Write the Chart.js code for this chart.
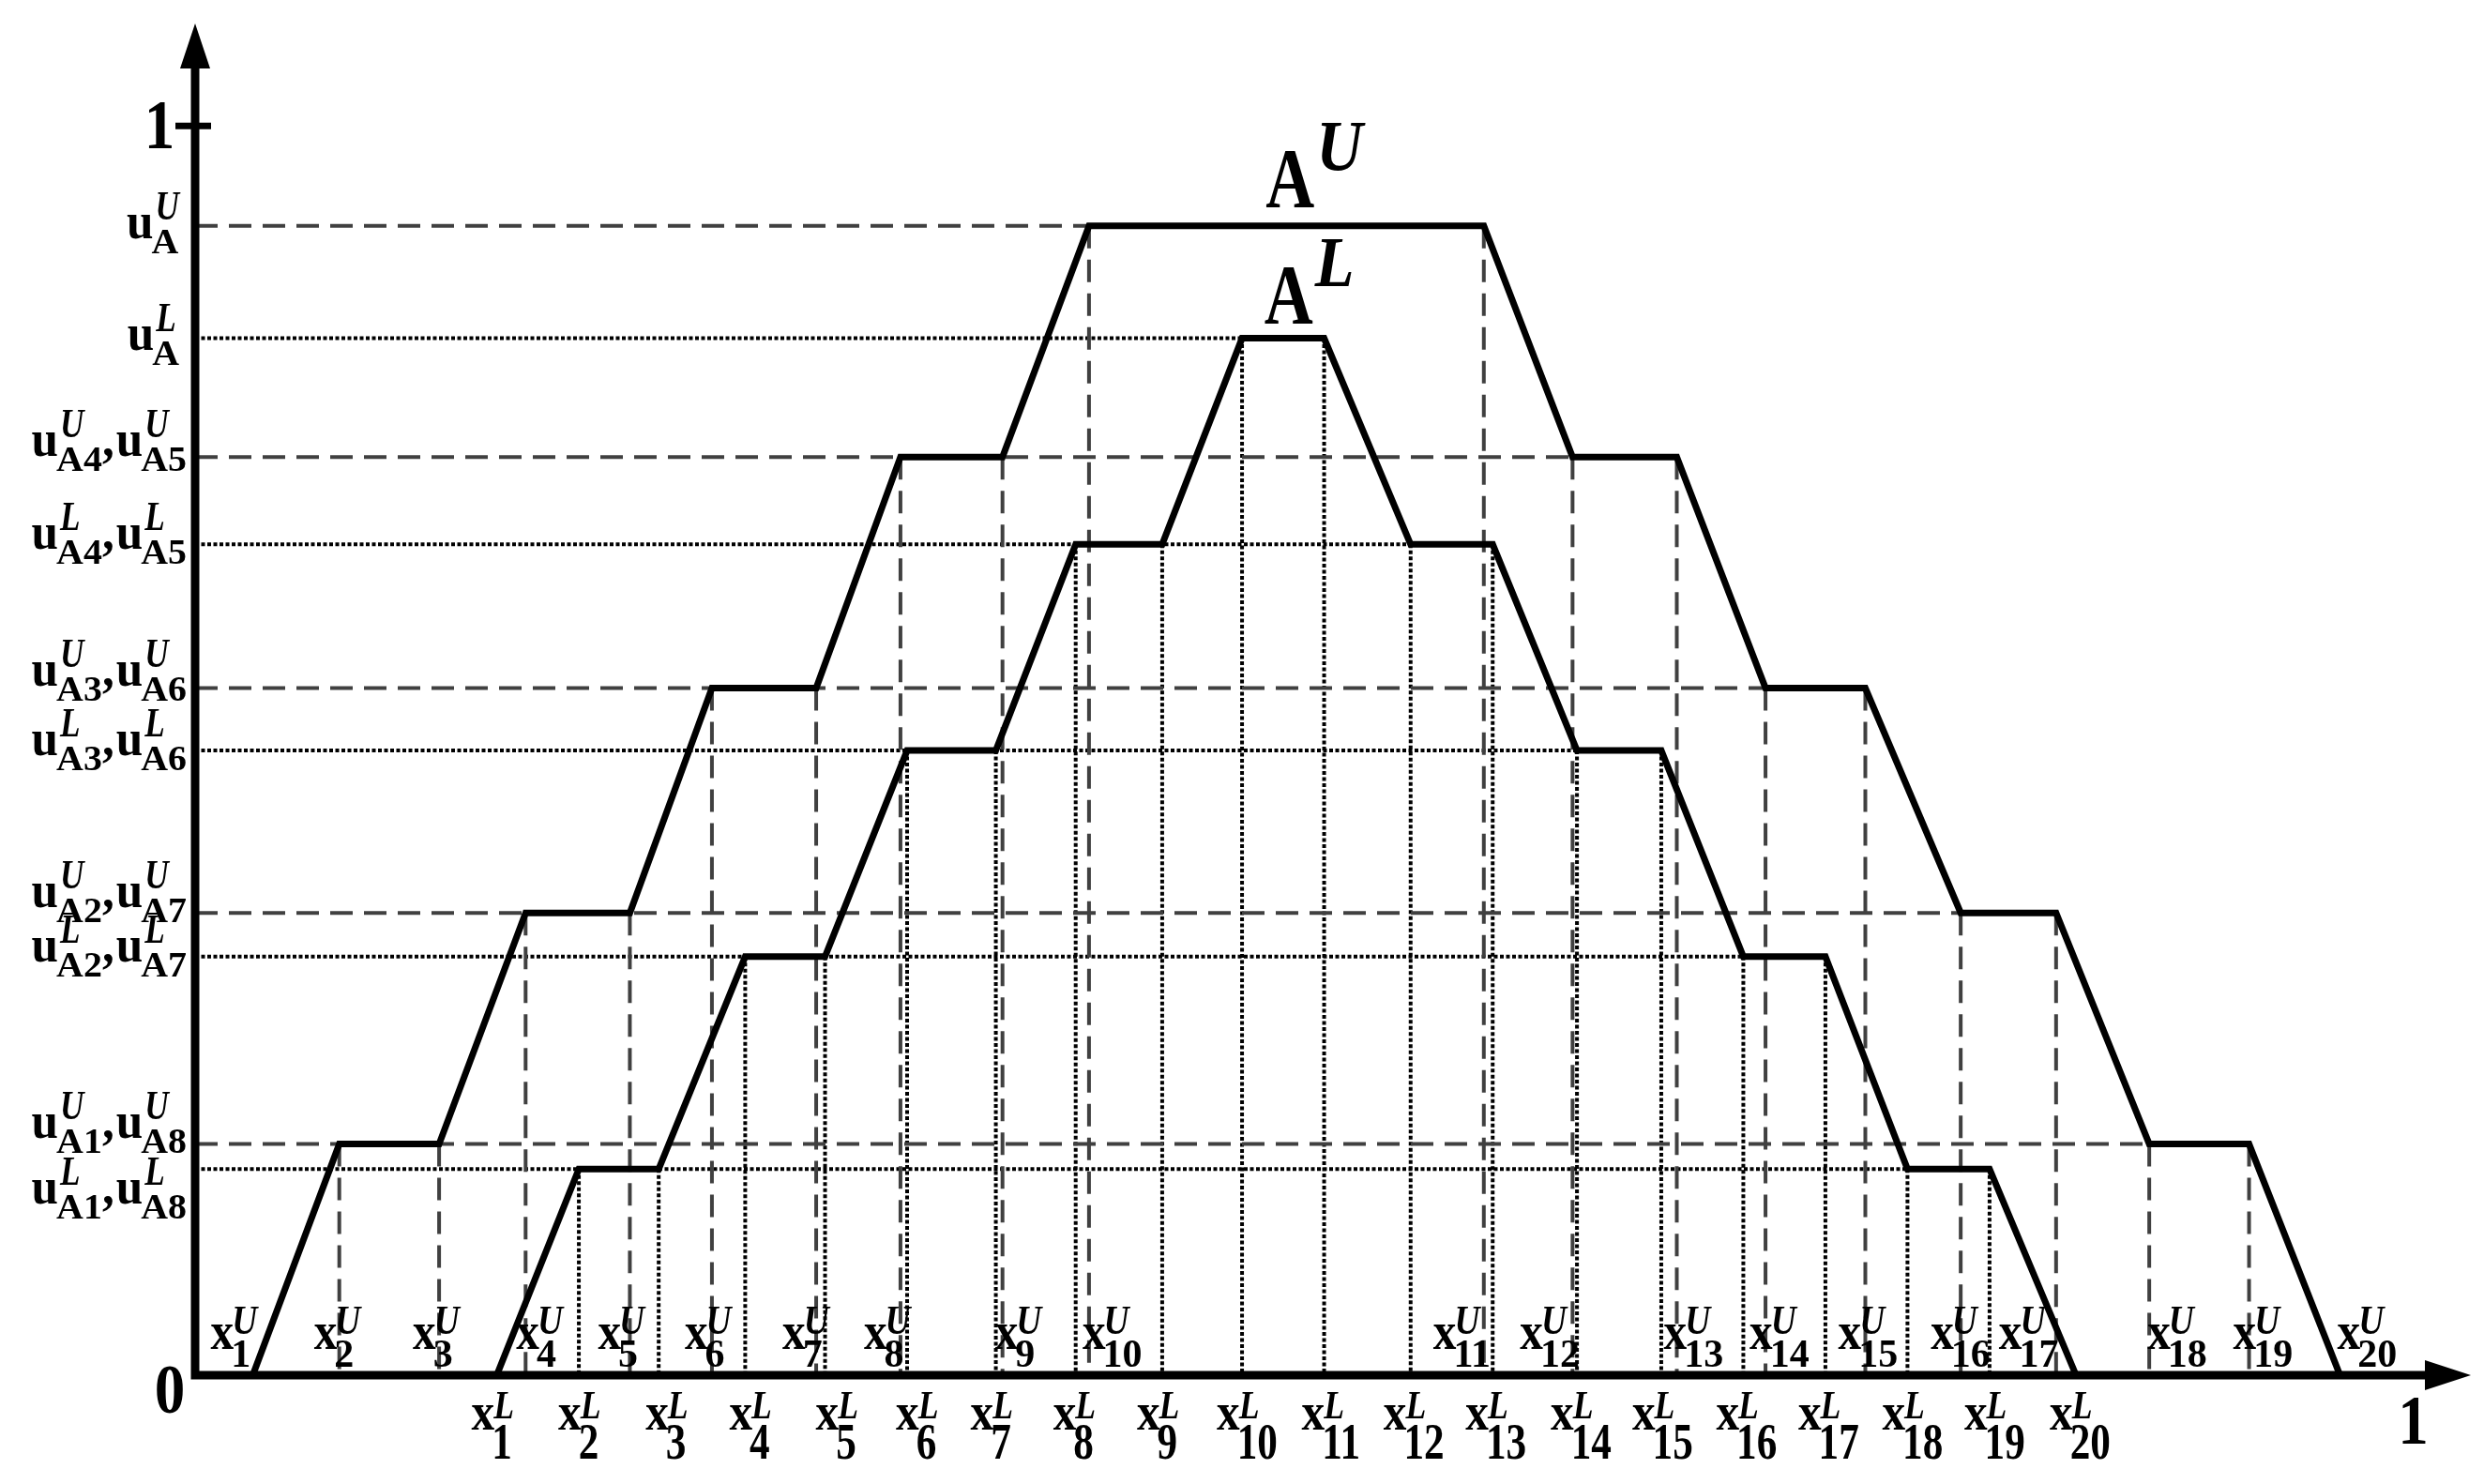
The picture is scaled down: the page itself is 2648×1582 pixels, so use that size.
<!DOCTYPE html>
<html><head><meta charset="utf-8">
<script src="https://cdn.jsdelivr.net/npm/chart.js@4.4.0/dist/chart.umd.min.js"></script>
<style>html,body{margin:0;padding:0;background:#fff;}#wrap{width:2648px;height:1582px;}</style>
</head><body><div id="wrap"><canvas id="c" width="2648" height="1582"></canvas></div>
<script>
// ---- data ----
const upperX  = [0.026,0.065,0.110,0.149,0.196,0.233,0.280,0.318,0.364,0.403,0.581,0.621,0.668,0.708,0.753,0.796,0.839,0.881,0.926,0.967];
const upperMu = [0,0.185,0.185,0.37,0.37,0.55,0.55,0.735,0.735,0.92,0.92,0.735,0.735,0.55,0.55,0.37,0.37,0.185,0.185,0];
const lowerX  = [0.136,0.173,0.209,0.248,0.284,0.321,0.361,0.397,0.436,0.472,0.509,0.548,0.585,0.623,0.661,0.698,0.735,0.772,0.809,0.848];
const lowerMu = [0,0.165,0.165,0.335,0.335,0.50,0.50,0.665,0.665,0.83,0.83,0.665,0.665,0.50,0.50,0.335,0.335,0.165,0.165,0];
const xIndexLabels = ['1','2','3','4','5','6','7','8','9','10','11','12','13','14','15','16','17','18','19','20'];
const upperLevels = [0.92,0.735,0.55,0.37,0.185];
const lowerLevels = [0.83,0.665,0.50,0.335,0.165];
const levelSubs = [['A'],['A4','A5'],['A3','A6'],['A2','A7'],['A1','A8']];
const axisMaxX = 1.026, axisMaxY = 1.082;

// ---- label placement (style, not data) ----
const upperLabelDx = [-45,-27,-28,-10,-34,-29,-36,-39,-8,-7,-54,-56,-14,-17,-29,-32,-61,-2,-17,-3];
const lowerLabelDx = [-27,-22,-14,-17,-10,-12,-27,-24,-27,-27,-24,-29,-29,-28,-31,-29,-29,-27,-27,-28];
const upperYLabelDy = [13,-1,-3,-6,-7];
const lowerYLabelDy = [12,5,5,5,37];
const SERIF = '"Liberation Serif","Times New Roman",serif';

function pts(xs, ys){ return xs.map((x,i)=>({x:x, y:ys[i]})); }
function guides(xs, mus){
  const out=[];
  const levels=[...new Set(mus.filter(m=>m>0))];
  levels.forEach(l=>{ const last=mus.lastIndexOf(l); out.push({x:0,y:l},{x:xs[last],y:l},{x:xs[last],y:null}); });
  for(let i=1;i<xs.length-1;i++){ out.push({x:xs[i],y:mus[i]},{x:xs[i],y:0},{x:xs[i],y:null}); }
  return out;
}
function dt(ctx,s,x,y,font,sx){ ctx.save(); ctx.font=font; ctx.translate(x,y); ctx.scale(sx,1); ctx.fillText(s,0,0); const w=ctx.measureText(s).width*sx; ctx.restore(); return w; }
function mw(ctx,s,font,sx){ ctx.save(); ctx.font=font; const w=ctx.measureText(s).width*sx; ctx.restore(); return w; }

const F = {
  xMain:'bold 58px '+SERIF, xMainSx:0.85,
  upSub:'bold 42px '+SERIF, upSubSx:1.0,
  upSup:'italic bold 44px '+SERIF, upSupSx:0.85,
  loSub:'bold 54px '+SERIF, loSubSx:0.8,
  loSup:'italic bold 42px '+SERIF, loSupSx:0.85,
  uMain:'bold 54px '+SERIF, uMainSx:0.95,
  uSub:'bold 38px '+SERIF, uSubSx:1.05,
  uSup:'italic bold 44px '+SERIF, uSupSx:0.8,
  big:'bold 74px '+SERIF, bigSx:0.88,
  A:'bold 90px '+SERIF, ASx:0.8,
  ASup:'italic bold 76px '+SERIF, ASupSx:0.9
};

const overlay = {
  id:'overlay',
  afterDatasetsDraw(chart){
    const ctx=chart.ctx, xs=chart.scales.x, ys=chart.scales.y;
    const x0=xs.getPixelForValue(0), y0=ys.getPixelForValue(0);
    const xEnd=xs.getPixelForValue(axisMaxX), yEnd=ys.getPixelForValue(axisMaxY);
    ctx.save();
    ctx.fillStyle='#000'; ctx.strokeStyle='#000';
    // axes
    ctx.lineWidth=9; ctx.lineJoin='miter'; ctx.lineCap='butt';
    ctx.beginPath(); ctx.moveTo(x0,yEnd+45); ctx.lineTo(x0,y0); ctx.lineTo(xEnd-45,y0); ctx.stroke();
    ctx.beginPath(); ctx.moveTo(x0,yEnd); ctx.lineTo(x0-16,yEnd+48); ctx.lineTo(x0+16,yEnd+48); ctx.closePath(); ctx.fill();
    ctx.beginPath(); ctx.moveTo(xEnd,y0); ctx.lineTo(xEnd-49,y0-16); ctx.lineTo(xEnd-49,y0+16); ctx.closePath(); ctx.fill();
    // tick at 1
    const y1=ys.getPixelForValue(1);
    ctx.lineWidth=7; ctx.beginPath(); ctx.moveTo(x0-21,y1); ctx.lineTo(x0+17,y1); ctx.stroke();
    ctx.textBaseline='alphabetic';
    // 0 and 1 labels
    let w=mw(ctx,'0',F.big,F.bigSx); dt(ctx,'0',x0-27-w/2,y0+40,F.big,F.bigSx);
    w=mw(ctx,'1',F.big,F.bigSx); dt(ctx,'1',x0-38-w/2,y1+24,F.big,F.bigSx);
    const x1=xs.getPixelForValue(1);
    dt(ctx,'1',x1-w/2,y0+73,F.big,F.bigSx);
    // y labels
    function yLabel(level, subs, sup, dy){
      const L=ys.getPixelForValue(level);
      const wu=mw(ctx,'u',F.uMain,F.uMainSx);
      const units=subs.map(s=>{ const ws=mw(ctx,s,F.uSub,F.uSubSx), wp=mw(ctx,sup,F.uSup,F.uSupSx); return wu-2+Math.max(ws,wp+4); });
      const wc=mw(ctx,',',F.uMain,F.uMainSx)+2;
      let total=units.reduce((a,b)=>a+b,0)+(subs.length-1)*wc;
      const right = subs.length>1 ? x0-9 : x0-17;
      let cx=right-total;
      subs.forEach((s,k)=>{
        dt(ctx,'u',cx,L+dy,F.uMain,F.uMainSx);
        dt(ctx,s,cx+wu-2,L+dy+16,F.uSub,F.uSubSx);
        dt(ctx,sup,cx+wu+2,L+dy-20,F.uSup,F.uSupSx);
        cx+=units[k];
        if(k<subs.length-1){ dt(ctx,',',cx,L+dy,F.uMain,F.uMainSx); cx+=wc; }
      });
    }
    upperLevels.forEach((l,i)=>yLabel(l,levelSubs[i],'U',upperYLabelDy[i]));
    lowerLevels.forEach((l,i)=>yLabel(l,levelSubs[i],'L',lowerYLabelDy[i]));
    // x labels
    upperX.forEach((v,i)=>{
      const left=xs.getPixelForValue(v)+upperLabelDx[i], base=y0-28;
      const wx=dt(ctx,'x',left,base,F.xMain,F.xMainSx);
      dt(ctx,xIndexLabels[i],left+wx-3,base+19,F.upSub,F.upSubSx);
      dt(ctx,'U',left+wx-2,base-16,F.upSup,F.upSupSx);
    });
    lowerX.forEach((v,i)=>{
      const left=xs.getPixelForValue(v)+lowerLabelDx[i], base=y0+58;
      const wx=dt(ctx,'x',left,base,F.xMain,F.xMainSx);
      dt(ctx,xIndexLabels[i],left+wx-3,base+31,F.loSub,F.loSubSx);
      dt(ctx,'L',left+wx-1,base-12,F.loSup,F.loSupSx);
    });
    // A^U, A^L
    function bigA(mid, level, sup, dy){
      const L=ys.getPixelForValue(level);
      const wa=mw(ctx,'A',F.A,F.ASx);
      const left=mid-wa/2;
      dt(ctx,'A',left,L-dy,F.A,F.ASx);
      dt(ctx,sup,left+wa+2,L-dy-40,F.ASup,F.ASupSx);
    }
    bigA((xs.getPixelForValue(upperX[9])+xs.getPixelForValue(upperX[10]))/2+4, upperMu[9],'U',20);
    bigA((xs.getPixelForValue(lowerX[9])+xs.getPixelForValue(lowerX[10]))/2+6, lowerMu[9],'L',16);
    ctx.restore();
  }
};

const curveStyle = {borderColor:'#000', borderWidth:7, pointRadius:0, tension:0, borderJoinStyle:'miter', borderCapStyle:'butt', fill:false, clip:false};
new Chart(document.getElementById('c'), {
  type:'line',
  data:{ datasets:[
    Object.assign({label:'A^U', data:pts(upperX,upperMu)}, curveStyle),
    Object.assign({label:'A^L', data:pts(lowerX,lowerMu)}, curveStyle),
    {label:'upper guides', data:guides(upperX,upperMu), borderColor:'#404040', borderWidth:4, borderDash:[24,12], pointRadius:0, tension:0, spanGaps:false, fill:false, clip:false, borderCapStyle:'butt'},
    {label:'lower guides', data:guides(lowerX,lowerMu), borderColor:'#000', borderWidth:4, borderDash:[4,2.5], pointRadius:0, tension:0, spanGaps:false, fill:false, clip:false, borderCapStyle:'butt'}
  ]},
  options:{
    responsive:false, animation:false, events:[],
    layout:{padding:{left:208,right:14,top:25,bottom:116}},
    plugins:{legend:{display:false}, tooltip:{enabled:false}},
    scales:{
      x:{type:'linear', min:0, max:axisMaxX, display:false},
      y:{type:'linear', min:0, max:axisMaxY, display:false}
    }
  },
  plugins:[overlay]
});
</script></body></html>
